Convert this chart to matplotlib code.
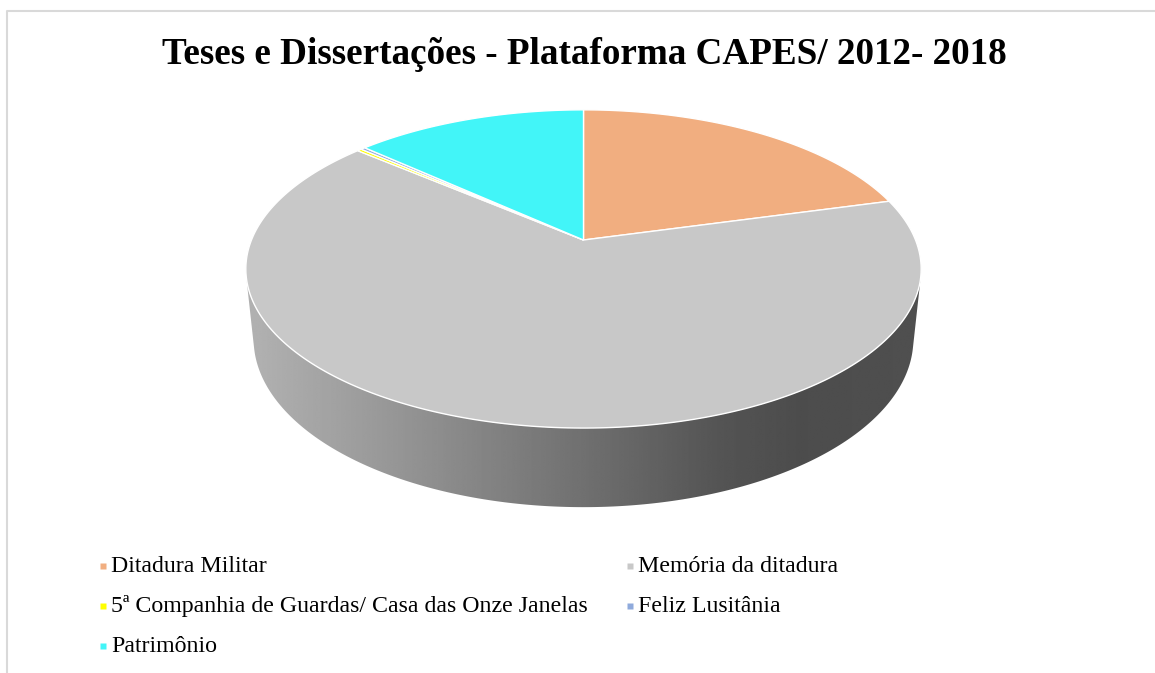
import numpy as np
import matplotlib.pyplot as plt
from matplotlib.patches import Polygon

# Data
categories = ['Ditadura Militar', 'Memória da ditadura',
              '5ª Companhia de Guardas/ Casa das Onze Janelas',
              'Feliz Lusitânia', 'Patrimônio']
values = [83, 262, 1, 1, 53]
colors = ['#F1AE80', '#C8C8C8', '#FFFF00', '#8FAADC', '#42F5F8']
title = 'Teses e Dissertações - Plataforma CAPES/ 2012- 2018'

plt.rcParams['font.family'] = ['Liberation Serif', 'DejaVu Serif']

W, H = 1155, 673
fig = plt.figure(figsize=(W / 100, H / 100), dpi=100)
ax = fig.add_axes([0, 0, 1, 1])
ax.set_xlim(0, W)
ax.set_ylim(H, 0)
ax.axis('off')

# chart frame (right / bottom cut off)
ax.plot([7, 7, W], [H, 10.5, 10.5], color='#d9d9d9', lw=1.5)

# perspective view of the 3d pie
cx, cy = 583.5, 240
elev = np.radians(27.6)
dist = 4.87
focal = 1617
thick = 0.2407


def project(theta, z=0.0):
    X = np.sin(theta)
    Y = np.cos(theta)
    d = dist + Y * np.cos(elev) - z * np.sin(elev)
    yc = Y * np.sin(elev) + z * np.cos(elev)
    return cx + focal * X / d, cy - focal * yc / d


# side wall (front part only)
t0 = np.arccos(-1 / (dist * np.cos(elev)))
ts = np.linspace(t0, 2 * np.pi - t0, 300)
xt, yt = project(ts)
xb, yb = project(ts[::-1], -thick)
side = Polygon(np.column_stack([np.r_[xt, xb], np.r_[yt, yb]]),
               closed=True, facecolor='none', edgecolor='none')
ax.add_patch(side)
gx = np.linspace(240, 930, 400)
shade = np.interp(gx, [258, 380, 583, 720, 800, 908],
                  [0.69, 0.60, 0.44, 0.33, 0.30, 0.31])
grad = np.repeat(shade[None, :], 2, axis=0)
img = ax.imshow(grad, extent=[240, 930, 530, 250], cmap='gray',
                vmin=0, vmax=1, aspect='auto', interpolation='bilinear',
                zorder=1)
img.set_clip_path(side)

# top slices, clockwise from 12 o'clock
fracs = np.array(values) / sum(values)
start = 0.0
for frac, col in zip(fracs, colors):
    end = start + frac * 2 * np.pi
    tt = np.linspace(start, end, max(3, int(frac * 400)))
    px, py = project(tt)
    pts = np.column_stack([np.r_[cx, px], np.r_[cy, py]])
    ax.add_patch(Polygon(pts, closed=True, facecolor=col,
                         edgecolor='white', lw=1.0, zorder=3))
    start = end

ax.text(584, 64, title, ha='center', va='baseline', fontsize=26.7,
        fontweight='bold', color='black')

# legend
leg_x = [103, 630]
leg_y = [572, 612, 652]
for i, (lab, col) in enumerate(zip(categories, colors)):
    lx = leg_x[i % 2]
    ly = leg_y[i // 2]
    ax.plot(lx, ly - 6.5, marker='s', ms=5, color=col, mec='none')
    ax.text(lx + 8, ly, lab, ha='left', va='baseline', fontsize=17.2,
            color='black')

fig.savefig('out.png', dpi=100)
